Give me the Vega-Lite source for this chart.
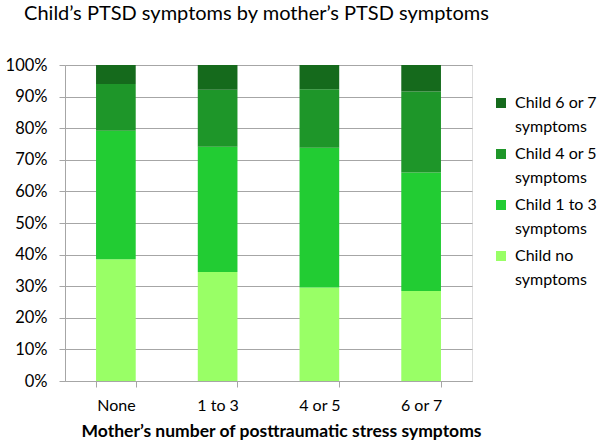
{
  "$schema": "https://vega.github.io/schema/vega-lite/v6.json",
  "autosize": "none",
  "width": 407,
  "height": 316,
  "padding": {"left": 65, "top": 65, "right": 128, "bottom": 67},
  "background": "white",
  "title": {
    "text": "Child’s PTSD symptoms by mother’s PTSD symptoms",
    "font": "Lato",
    "fontSize": 20,
    "fontWeight": "normal",
    "color": "#000000",
    "anchor": "middle",
    "dx": -12,
    "offset": 33
  },
  "data": {
    "values": [
      {"mother": "None", "child": "Child no symptoms", "order": 1, "pct": 38.5},
      {"mother": "None", "child": "Child 1 to 3 symptoms", "order": 2, "pct": 40.7},
      {"mother": "None", "child": "Child 4 or 5 symptoms", "order": 3, "pct": 14.8},
      {"mother": "None", "child": "Child 6 or 7 symptoms", "order": 4, "pct": 6.0},
      {"mother": "1 to 3", "child": "Child no symptoms", "order": 1, "pct": 34.5},
      {"mother": "1 to 3", "child": "Child 1 to 3 symptoms", "order": 2, "pct": 39.6},
      {"mother": "1 to 3", "child": "Child 4 or 5 symptoms", "order": 3, "pct": 18.1},
      {"mother": "1 to 3", "child": "Child 6 or 7 symptoms", "order": 4, "pct": 7.8},
      {"mother": "4 or 5", "child": "Child no symptoms", "order": 1, "pct": 29.6},
      {"mother": "4 or 5", "child": "Child 1 to 3 symptoms", "order": 2, "pct": 44.2},
      {"mother": "4 or 5", "child": "Child 4 or 5 symptoms", "order": 3, "pct": 18.5},
      {"mother": "4 or 5", "child": "Child 6 or 7 symptoms", "order": 4, "pct": 7.7},
      {"mother": "6 or 7", "child": "Child no symptoms", "order": 1, "pct": 28.5},
      {"mother": "6 or 7", "child": "Child 1 to 3 symptoms", "order": 2, "pct": 37.5},
      {"mother": "6 or 7", "child": "Child 4 or 5 symptoms", "order": 3, "pct": 25.6},
      {"mother": "6 or 7", "child": "Child 6 or 7 symptoms", "order": 4, "pct": 8.4}
    ]
  },
  "mark": {"type": "bar"},
  "encoding": {
    "x": {
      "field": "mother",
      "type": "nominal",
      "sort": ["None", "1 to 3", "4 or 5", "6 or 7"],
      "scale": {"paddingInner": 0.61, "paddingOuter": 0.305},
      "axis": {
        "title": "Mother’s number of posttraumatic stress symptoms",
        "titleFont": "Lato",
        "titleFontSize": 17.5,
        "titleFontWeight": "bold",
        "titleColor": "#000000",
        "titlePadding": 9,
        "titleAnchor": "middle",
        "titleX": 216,
        "labelFont": "Lato",
        "labelFontSize": 16,
        "labelColor": "#000000",
        "labelAngle": 0,
        "labelPadding": 10,
        "tickBand": "extent",
        "tickSize": 6,
        "tickColor": "#A6A6A6",
        "domainColor": "#A6A6A6",
        "grid": false
      }
    },
    "y": {
      "field": "pct",
      "type": "quantitative",
      "stack": "normalize",
      "scale": {"domain": [0, 1]},
      "axis": {
        "title": null,
        "format": ".0%",
        "values": [0, 0.1, 0.2, 0.3, 0.4, 0.5, 0.6, 0.7, 0.8, 0.9, 1.0],
        "labelFont": "Lato",
        "labelFontSize": 16.5,
        "labelColor": "#000000",
        "labelPadding": 12,
        "tickSize": 6,
        "tickColor": "#A6A6A6",
        "domainColor": "#A6A6A6",
        "grid": true,
        "gridColor": "#A6A6A6"
      }
    },
    "order": {"field": "order", "type": "quantitative"},
    "color": {
      "field": "child",
      "type": "nominal",
      "sort": ["Child 6 or 7 symptoms", "Child 4 or 5 symptoms", "Child 1 to 3 symptoms", "Child no symptoms"],
      "scale": {
        "domain": ["Child 6 or 7 symptoms", "Child 4 or 5 symptoms", "Child 1 to 3 symptoms", "Child no symptoms"],
        "range": ["#156A1C", "#1E9629", "#22CC33", "#99FF66"]
      },
      "legend": {
        "title": null,
        "orient": "none",
        "legendX": 428,
        "legendY": 30,
        "padding": 0,
        "symbolType": "square",
        "symbolSize": 100,
        "symbolStrokeWidth": 0,
        "labelFont": "Lato",
        "labelFontSize": 16,
        "labelColor": "#000000",
        "labelLimit": 200,
        "labelExpr": "[replace(datum.label, ' symptoms', ''), 'symptoms']",
        "rowPadding": 11,
        "labelOffset": 6,
        "encode": {"labels": {"update": {"lineHeight": {"value": 24}}}}
      }
    }
  }
}
